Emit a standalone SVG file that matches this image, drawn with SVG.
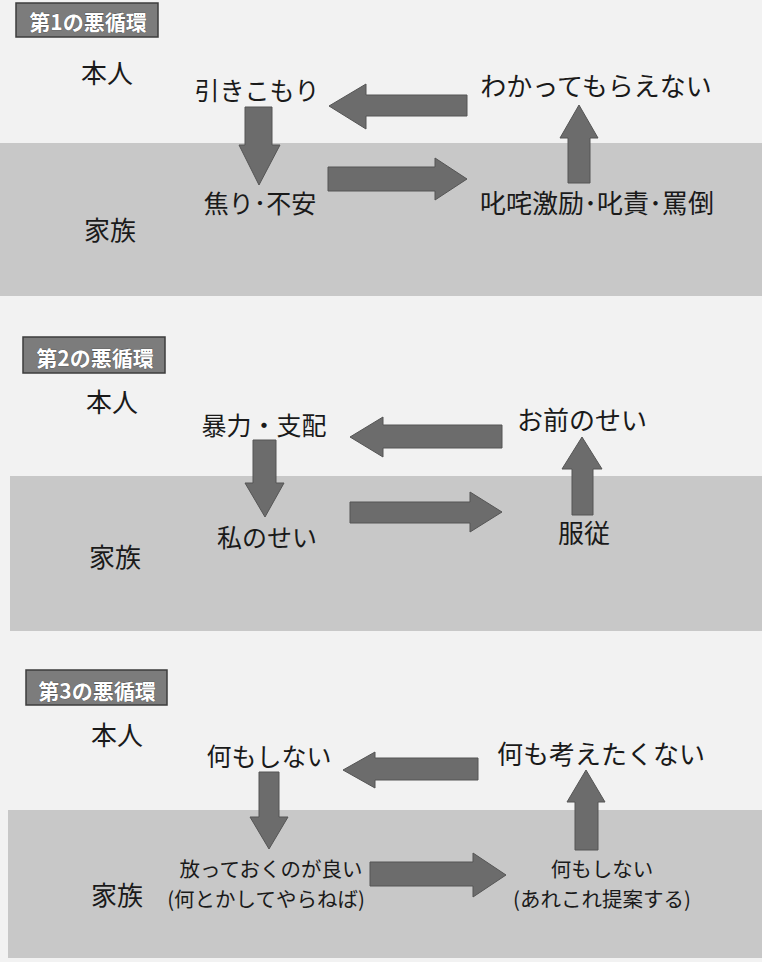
<svg xmlns="http://www.w3.org/2000/svg" width="762" height="962" viewBox="0 0 762 962">
<style>
.bg{fill:#f2f2f2}
.band{fill:#c8c8c8}
.lbl{fill:#7c7c7c;stroke:#3c3c3c;stroke-width:1.5}
.lt{font-family:"Noto Sans CJK JP","Noto Sans",sans-serif;font-size:21px;fill:#ffffff;stroke:#444;stroke-width:0.6;paint-order:stroke;text-anchor:middle;font-weight:bold}
.t{font-family:"Noto Sans CJK JP","Noto Sans",sans-serif;fill:#1a1a1a;text-anchor:middle}
.f26{font-size:26px}
.f25{font-size:25px}
.f20{font-size:20.5px}
.ar{fill:#6c6c6c;stroke:#555;stroke-width:1}
</style>
<rect class="bg" x="0" y="0" width="762" height="962"/>
<rect class="band" x="0" y="143" width="762" height="153"/>
<rect class="band" x="10" y="476" width="752" height="155"/>
<rect class="band" x="8" y="810" width="754" height="148"/>

<!-- Panel 1 -->
<g id="title1"><rect class="lbl" x="16" y="3" width="142" height="34"/><text class="lt" x="88" y="30">第1の悪循環</text></g>
<g id="p1-honnin"><text class="t f26" x="107" y="83">本人</text></g>
<g id="p1-kazoku"><text class="t f26" x="110" y="240">家族</text></g>
<g id="p1-hikikomori"><text class="t f25" x="257" y="100">引きこもり</text></g>
<g id="p1-wakatte"><text class="t f26" x="596" y="96">わかってもらえない</text></g>
<g id="p1-aseri"><text class="t f25" x="260" y="213">焦り･不安</text></g>
<g id="p1-shitta"><text class="t f26" x="597" y="213">叱咤激励･叱責･罵倒</text></g>

<!-- Panel 2 -->
<g id="title2"><rect class="lbl" x="23" y="337" width="142" height="36"/><text class="lt" x="95" y="366">第2の悪循環</text></g>
<g id="p2-honnin"><text class="t f26" x="112" y="412">本人</text></g>
<g id="p2-kazoku"><text class="t f26" x="115" y="567">家族</text></g>
<g id="p2-boryoku"><text class="t f25" x="264" y="435">暴力・支配</text></g>
<g id="p2-omae"><text class="t f26" x="582" y="430">お前のせい</text></g>
<g id="p2-watashi"><text class="t f25" x="267" y="547">私のせい</text></g>
<g id="p2-fukuju"><text class="t f26" x="584" y="543">服従</text></g>

<!-- Panel 3 -->
<g id="title3"><rect class="lbl" x="26" y="670" width="141" height="35"/><text class="lt" x="97" y="699">第3の悪循環</text></g>
<g id="p3-honnin"><text class="t f26" x="117" y="745">本人</text></g>
<g id="p3-kazoku"><text class="t f26" x="117" y="905">家族</text></g>
<g id="p3-nanimo1"><text class="t f25" x="269" y="766">何もしない</text></g>
<g id="p3-kangae"><text class="t f26" x="601" y="764">何も考えたくない</text></g>
<g id="p3-hotte"><text class="t f20" x="271" y="877">放っておくのが良い</text><text class="t f20" x="266" y="907">(何とかしてやらねば)</text></g>
<g id="p3-nanimo2"><text class="t f20" x="602" y="877">何もしない</text><text class="t f20" x="602" y="907">(あれこれ提案する)</text></g>

<g id="connectors">
<!-- panel 1 -->
<polygon class="ar" points="245,107 272,107 272,145 280,145 259,185 239,145 245,145"/>
<polygon class="ar" points="467,95 467,116 366,116 366,129 329,106 366,84 366,95"/>
<polygon class="ar" points="328,167 435,167 435,158 467,179 435,200 435,191 328,191"/>
<polygon class="ar" points="568,183 568,138 560,138 579,105 598,138 590,138 590,183"/>
<!-- panel 2 -->
<polygon class="ar" points="253,440 276,440 276,483 284,483 265,517 245,483 253,483"/>
<polygon class="ar" points="502,425 502,448 383,448 383,457 350,437 383,417 383,425"/>
<polygon class="ar" points="350,502 470,502 470,492 502,512 470,532 470,523 350,523"/>
<polygon class="ar" points="572,515 572,469 562,469 582,437 602,469 593,469 593,515"/>
<!-- panel 3 -->
<polygon class="ar" points="259,772 279,772 279,817 288,817 269,849 250,817 259,817"/>
<polygon class="ar" points="478,758 478,780 375,780 375,788 343,770 375,752 375,758"/>
<polygon class="ar" points="370,862 473,862 473,853 506,875 473,897 473,886 370,886"/>
<polygon class="ar" points="575,850 575,802 567,802 586,770 605,802 598,802 598,850"/>
</g>
</svg>
